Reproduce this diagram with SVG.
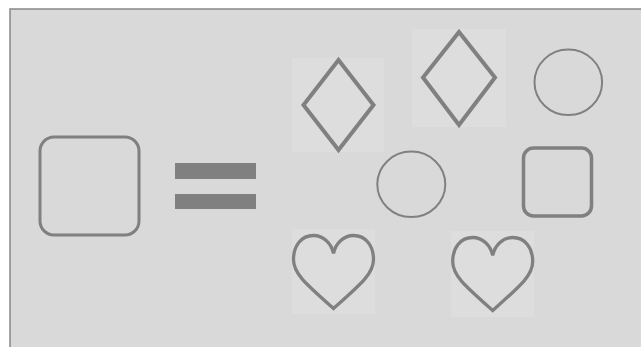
<svg xmlns="http://www.w3.org/2000/svg" width="641" height="347" viewBox="0 0 641 347">
<style>
.shape{fill:none;stroke:#808080}
.tile{fill:#dddddd;stroke:none}
</style>
<defs>
<path id="heart" d="M 0 18 C -2 8, -10 0, -20 0 C -32 0, -40 10, -40 24 C -40 38, -28 48, 0 73 C 28 48, 40 38, 40 24 C 40 10, 32 0, 20 0 C 10 0, 2 8, 0 18 Z"/>
</defs>
<rect x="0" y="0" width="641" height="347" fill="#ffffff"/>
<rect x="10" y="9" width="640" height="345" fill="#d9d9d9" stroke="#888888" stroke-width="1.5"/>
<g id="left-square"><rect class="shape" x="40" y="137" width="99" height="98" rx="14" stroke-width="3"/></g>
<g id="equals">
<rect x="175" y="163" width="81" height="16" fill="#808080"/>
<rect x="175" y="194" width="81" height="15" fill="#808080"/>
</g>
<g id="diamond1">
<rect class="tile" x="292" y="58" width="92" height="94"/>
<polygon class="shape" stroke-width="4" points="338.5,60 373.5,105 338.5,150 303.5,105"/>
</g>
<g id="diamond2">
<rect class="tile" x="412" y="29" width="94" height="98"/>
<polygon class="shape" stroke-width="4" points="459,32 495,77.5 459,125 423,77.5"/>
</g>
<g id="circle1"><ellipse class="shape" stroke-width="2" cx="568.3" cy="82.3" rx="33.8" ry="32.8"/></g>
<g id="circle2"><ellipse class="shape" stroke-width="2" cx="411.3" cy="184.3" rx="34" ry="32.7"/></g>
<g id="right-square"><rect class="shape" x="523.5" y="148" width="68" height="68" rx="10" stroke-width="3.5"/></g>
<g id="heart1">
<rect class="tile" x="292" y="229" width="83" height="85"/>
<use href="#heart" class="shape" stroke-width="3.3" transform="translate(333.5,235.5)"/>
</g>
<g id="heart2">
<rect class="tile" x="451" y="231" width="83" height="86"/>
<use href="#heart" class="shape" stroke-width="3.3" transform="translate(492.7,237.5)"/>
</g>
<g id="connectors"></g>
</svg>
